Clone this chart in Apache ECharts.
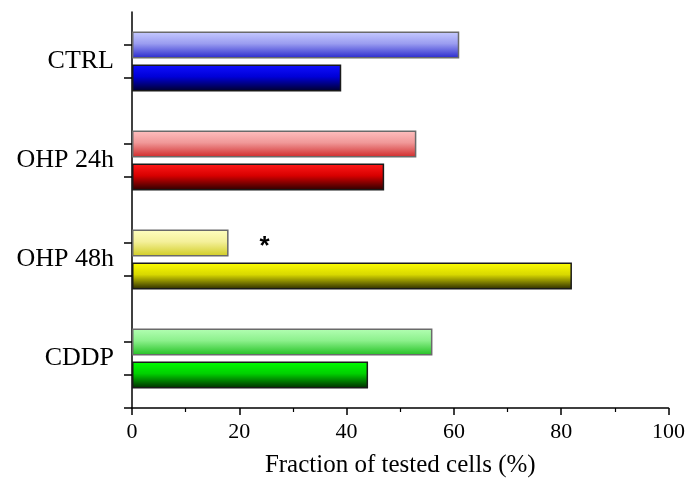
<!DOCTYPE html>
<html>
<head>
<meta charset="utf-8">
<script src="https://cdn.jsdelivr.net/npm/echarts@6/dist/echarts.min.js"></script>
<style>
html,body{margin:0;padding:0;background:#fff;}
#c{width:688px;height:493px;}
</style>
</head>
<body>
<div id="c"></div>
<script>
// ---- data ----
var categories = ['CTRL', 'OHP 24h', 'OHP 48h', 'CDDP'];
var upperValues = [61, 53, 18, 56];   // light (upper) bars
var lowerValues = [39, 47, 82, 44];   // dark (lower) bars
var xTicks = [0, 20, 40, 60, 80, 100];
var xTitle = 'Fraction of tested cells (%)';
var starCategory = 'OHP 48h';

// ---- styles ----
var lightStops = [
  ['#c8ccff', '#9a9cf0', '#2626cc'],
  ['#ffc0c0', '#f09898', '#d02828'],
  ['#ffffc0', '#f4f09a', '#d0cc20'],
  ['#b4ffb4', '#8cf08c', '#20c020']
];
var darkStops = [
  ['#1010ff', '#0000d8', '#000028'],
  ['#ff1a1a', '#d80000', '#280000'],
  ['#ffff00', '#d8d800', '#282800'],
  ['#00ff00', '#00d000', '#002800']
];
function grad(s) {
  return new echarts.graphic.LinearGradient(0, 0, 0, 1, [
    {offset: 0, color: s[0]}, {offset: 0.45, color: s[1]}, {offset: 1, color: s[2]}
  ]);
}
var FONT = 'Liberation Serif';

var upperData = upperValues.map(function (v, i) {
  var d = {value: v, itemStyle: {color: grad(lightStops[i]), borderColor: '#6a6a6a', borderWidth: 1.5}};
  if (categories[i] === starCategory) {
    d.label = {show: true, position: 'right', distance: 31, formatter: '*',
      color: '#000', fontSize: 26, fontWeight: 'bold', fontFamily: 'Liberation Sans', offset: [0, 4]};
  }
  return d;
});
var lowerData = lowerValues.map(function (v, i) {
  return {value: v, itemStyle: {color: grad(darkStops[i]), borderColor: '#1a1a1a', borderWidth: 1.5}};
});

var tickSlots = Array.from({length: 25}, function (_, k) { return String(k); });

var chart = echarts.init(document.getElementById('c'), null, {renderer: 'canvas'});
chart.setOption({
  animation: false,
  backgroundColor: '#fff',
  grid: {left: 132, right: 19, top: 12, bottom: 85, containLabel: false},
  xAxis: {
    type: 'value', min: 0, max: 100, interval: 20,
    axisLine: {show: true, onZero: false, lineStyle: {color: '#000', width: 1.5}},
    axisTick: {show: true, length: 7, lineStyle: {color: '#000', width: 1.5}},
    minorTick: {show: true, splitNumber: 2, length: 4, lineStyle: {color: '#000', width: 1.2}},
    splitLine: {show: false},
    axisLabel: {color: '#000', fontFamily: FONT, fontSize: 22, margin: 13},
    name: xTitle, nameLocation: 'middle', nameGap: 45,
    nameTextStyle: {color: '#000', fontFamily: FONT, fontSize: 25}
  },
  yAxis: [{
    type: 'category', data: categories, inverse: true,
    axisLine: {show: true, lineStyle: {color: '#000', width: 1.5}},
    axisTick: {show: false},
    axisLabel: {color: '#000', fontFamily: FONT, fontSize: 26, margin: 18}
  }, {
    type: 'category', data: tickSlots, boundaryGap: false, position: 'left',
    axisLine: {show: false},
    axisLabel: {show: false},
    axisTick: {show: true, length: 8, lineStyle: {color: '#000', width: 1.5},
      interval: function (idx) { var m = idx % 6; return m === 2 || m === 4 || idx === 0; }}
  }],
  series: [{
    type: 'bar', name: 'upper', data: upperData, yAxisIndex: 0,
    barWidth: 27, barGap: '22%'
  }, {
    type: 'bar', name: 'lower', data: lowerData, yAxisIndex: 0,
    barWidth: 27, barGap: '22%'
  }]
});
</script>
</body>
</html>
